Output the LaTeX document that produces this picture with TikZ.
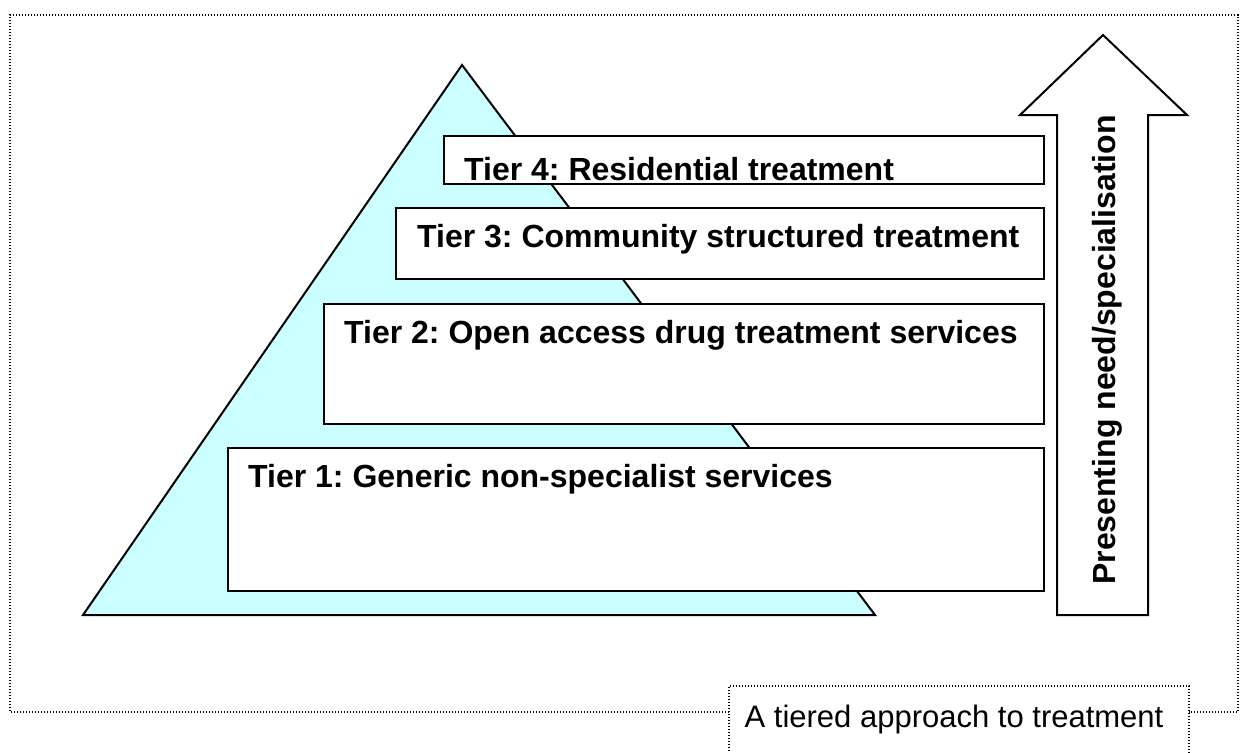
\documentclass[tikz,border=0pt]{standalone}
\usepackage{fontspec}
\setmainfont{Liberation Sans}
\frenchspacing
\definecolor{pyr}{HTML}{CCFFFF}
\begin{document}
\frenchspacing
\begin{tikzpicture}[x=1pt,y=-1pt,
  tierbox/.style={draw=black,line width=2pt,fill=white,rectangle,inner sep=0pt},
  tiertext/.style={font=\fontsize{32}{36}\selectfont\bfseries,anchor=base west,inner sep=0pt},
  dotline/.style={line width=1.3pt,dash pattern=on 1.3pt off 1.7pt}]
\useasboundingbox (0,0) rectangle (1247,752);
% outer dotted frame
\coordinate (f1) at (10,712);
\coordinate (f2) at (10,15);
\coordinate (f3) at (1238,15);
\coordinate (f4) at (1238,712);
\coordinate (f5) at (1189,712);
\coordinate (f6) at (729,712);
\draw[dotline] (f6) -- (f1) -- (f2) -- (f3) -- (f4) -- (f5);
% caption box
\draw[dotline] (729,760) -- (729,686) -- (1189,686) -- (1189,760);
\node[font=\fontsize{31}{36}\selectfont,anchor=base,inner sep=0pt] (captext) at (954,727) {A tiered approach to treatment};
% pyramid
\coordinate (apex) at (462,65);
\coordinate (bl) at (83,615);
\coordinate (br) at (875,615);
\draw[fill=pyr,line width=2pt,line join=miter] (apex) -- (bl) -- (br) -- cycle;
% tiers
\node[tierbox,minimum width=600pt,minimum height=48pt,anchor=north west] (t4) at (443,135) {};
\begin{scope}
\clip (443,135) rectangle (1043,182);
\node[tiertext] (t4t) at (464,180) {Tier 4: Residential treatment};
\end{scope}
\node[tierbox,minimum width=648pt,minimum height=71pt,anchor=north west] (t3) at (395,207) {};
\node[tiertext] (t3t) at (417,247) {Tier 3: Community structured treatment};
\node[tierbox,minimum width=720pt,minimum height=120pt,anchor=north west] (t2) at (323,303) {};
\node[tiertext] (t2t) at (344,343) {Tier 2: Open access drug treatment services};
\node[tierbox,minimum width=816pt,minimum height=143pt,anchor=north west] (t1) at (227,447) {};
\node[tiertext] (t1t) at (248,487) {Tier 1: Generic non-specialist services};
% arrow
\coordinate (a1) at (1057,615);
\coordinate (a2) at (1057,115);
\coordinate (a3) at (1020,115);
\coordinate (a4) at (1103,35);
\coordinate (a5) at (1187,115);
\coordinate (a6) at (1148,115);
\coordinate (a7) at (1148,615);
\draw[line width=2pt,fill=white,line join=miter] (a1) -- (a2) -- (a3) -- (a4) -- (a5) -- (a6) -- (a7) -- cycle;
\node[font=\fontsize{32}{36}\selectfont\bfseries,rotate=90,anchor=base,inner sep=0pt] (lab) at (1115,350) {Presenting need/specialisation};
\end{tikzpicture}
\end{document}
